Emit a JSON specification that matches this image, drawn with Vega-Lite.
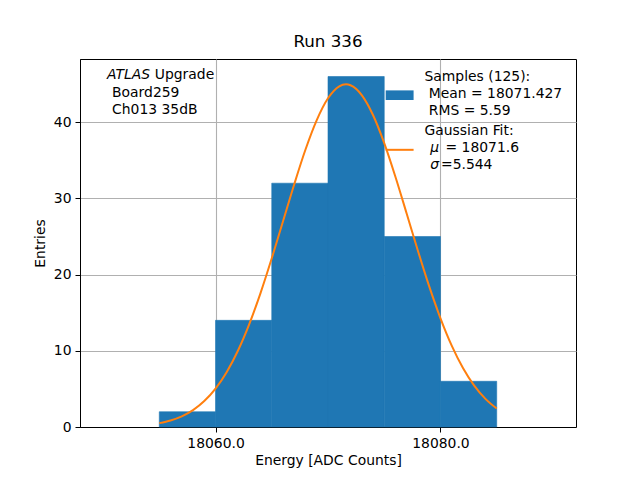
{
  "$schema": "https://vega.github.io/schema/vega-lite/v6.json",
  "autosize": "none",
  "padding": {"left": 80, "top": 59, "right": 64, "bottom": 53},
  "width": 496,
  "height": 368,
  "title": {"text": "Run 336", "fontSize": 16.7, "fontWeight": "normal", "font": "DejaVu Sans", "color": "black", "offset": 8},
  "config": {
    "view": {"stroke": "black", "strokeWidth": 1},
    "font": "DejaVu Sans",
    "axis": {
      "domainColor": "black", "tickColor": "black", "tickSize": 5, "labelColor": "black",
      "labelFontSize": 13.9, "titleFontSize": 13.9, "titleFontWeight": "normal", "titleColor": "black",
      "labelFont": "DejaVu Sans", "titleFont": "DejaVu Sans",
      "gridColor": "#b0b0b0", "gridWidth": 1.1, "labelPadding": 4, "zindex": 1
    }
  },
  "datasets": {
    "hist": [
      {"bin_start": 18055, "bin_end": 18060, "count": 2},
      {"bin_start": 18060, "bin_end": 18065, "count": 14},
      {"bin_start": 18065, "bin_end": 18070, "count": 32},
      {"bin_start": 18070, "bin_end": 18075, "count": 46},
      {"bin_start": 18075, "bin_end": 18080, "count": 25},
      {"bin_start": 18080, "bin_end": 18085, "count": 6}
    ],
    "fit": [
      {"energy": 18055, "entries": 0.51}, {"energy": 18056, "entries": 0.86},
      {"energy": 18057, "entries": 1.40}, {"energy": 18058, "entries": 2.22},
      {"energy": 18059, "entries": 3.40}, {"energy": 18060, "entries": 5.04},
      {"energy": 18061, "entries": 7.23}, {"energy": 18062, "entries": 10.04},
      {"energy": 18063, "entries": 13.51}, {"energy": 18064, "entries": 17.58},
      {"energy": 18065, "entries": 22.14}, {"energy": 18066, "entries": 27.00},
      {"energy": 18067, "entries": 31.87}, {"energy": 18068, "entries": 36.42},
      {"energy": 18069, "entries": 40.28}, {"energy": 18070, "entries": 43.14},
      {"energy": 18071, "entries": 44.71}, {"energy": 18071.6, "entries": 44.97},
      {"energy": 18072, "entries": 44.85}, {"energy": 18073, "entries": 43.56},
      {"energy": 18074, "entries": 40.95}, {"energy": 18075, "entries": 37.26},
      {"energy": 18076, "entries": 32.82}, {"energy": 18077, "entries": 27.99},
      {"energy": 18078, "entries": 23.10}, {"energy": 18079, "entries": 18.45},
      {"energy": 18080, "entries": 14.27}, {"energy": 18081, "entries": 10.68},
      {"energy": 18082, "entries": 7.74}, {"energy": 18083, "entries": 5.43},
      {"energy": 18084, "entries": 3.69}, {"energy": 18085, "entries": 2.42}
    ],
    "labels": [
      {"x": 18054.6, "y": 46.14, "text": "Upgrade"},
      {"x": 18050.8, "y": 43.8, "text": "Board259"},
      {"x": 18050.8, "y": 41.66, "text": "Ch013 35dB"},
      {"x": 18078.58, "y": 45.88, "text": "Samples (125):"},
      {"x": 18078.96, "y": 43.75, "text": "Mean = 18071.427"},
      {"x": 18078.96, "y": 41.53, "text": "RMS = 5.59"},
      {"x": 18078.58, "y": 38.91, "text": "Gaussian Fit:"},
      {"x": 18080.45, "y": 36.56, "text": "= 18071.6"},
      {"x": 18080.05, "y": 34.38, "text": "=5.544"}
    ],
    "italic": [
      {"x": 18050.35, "y": 46.14, "text": "ATLAS"},
      {"x": 18079.1, "y": 36.56, "text": "μ"},
      {"x": 18079.1, "y": 34.38, "text": "σ"}
    ],
    "patch": [{"x": 18075.13, "x2": 18077.61, "y": 44.18, "y2": 42.92}],
    "fitkey": [{"x": 18075.13, "x2": 18077.61, "y": 36.38}]
  },
  "layer": [
    {
      "data": {"name": "hist"},
      "mark": {"type": "rect", "color": "#1f77b4", "stroke": "#1f77b4", "strokeWidth": 0.6},
      "encoding": {
        "x": {"field": "bin_start", "type": "quantitative",
              "scale": {"domain": [18047.95, 18092.05], "nice": false, "zero": false},
              "axis": {"values": [18060, 18080], "format": ".1f", "title": "Energy [ADC Counts]", "grid": true, "titlePadding": 4}},
        "x2": {"field": "bin_end"},
        "y": {"field": "count", "type": "quantitative",
              "scale": {"domain": [0, 48.3], "nice": false, "padding": 0},
              "axis": {"values": [0, 10, 20, 30, 40], "title": "Entries", "grid": true, "titlePadding": 6}},
        "y2": {"datum": 0}
      }
    },
    {
      "data": {"name": "fit"},
      "mark": {"type": "line", "color": "#ff7f0e", "strokeWidth": 2, "interpolate": "monotone"},
      "encoding": {
        "x": {"field": "energy", "type": "quantitative"},
        "y": {"field": "entries", "type": "quantitative"}
      }
    },
    {
      "data": {"name": "patch"},
      "mark": {"type": "rect", "color": "#1f77b4"},
      "encoding": {
        "x": {"field": "x", "type": "quantitative"},
        "x2": {"field": "x2"},
        "y": {"field": "y", "type": "quantitative"},
        "y2": {"field": "y2"}
      }
    },
    {
      "data": {"name": "fitkey"},
      "mark": {"type": "rule", "color": "#ff7f0e", "strokeWidth": 2},
      "encoding": {
        "x": {"field": "x", "type": "quantitative"},
        "x2": {"field": "x2"},
        "y": {"field": "y", "type": "quantitative"}
      }
    },
    {
      "data": {"name": "labels"},
      "mark": {"type": "text", "align": "left", "baseline": "middle", "fontSize": 13.9, "font": "DejaVu Sans", "color": "black"},
      "encoding": {
        "x": {"field": "x", "type": "quantitative"},
        "y": {"field": "y", "type": "quantitative"},
        "text": {"field": "text"}
      }
    },
    {
      "data": {"name": "italic"},
      "mark": {"type": "text", "align": "left", "baseline": "middle", "fontSize": 13.9, "font": "DejaVu Sans", "fontStyle": "italic", "color": "black"},
      "encoding": {
        "x": {"field": "x", "type": "quantitative"},
        "y": {"field": "y", "type": "quantitative"},
        "text": {"field": "text"}
      }
    }
  ]
}
